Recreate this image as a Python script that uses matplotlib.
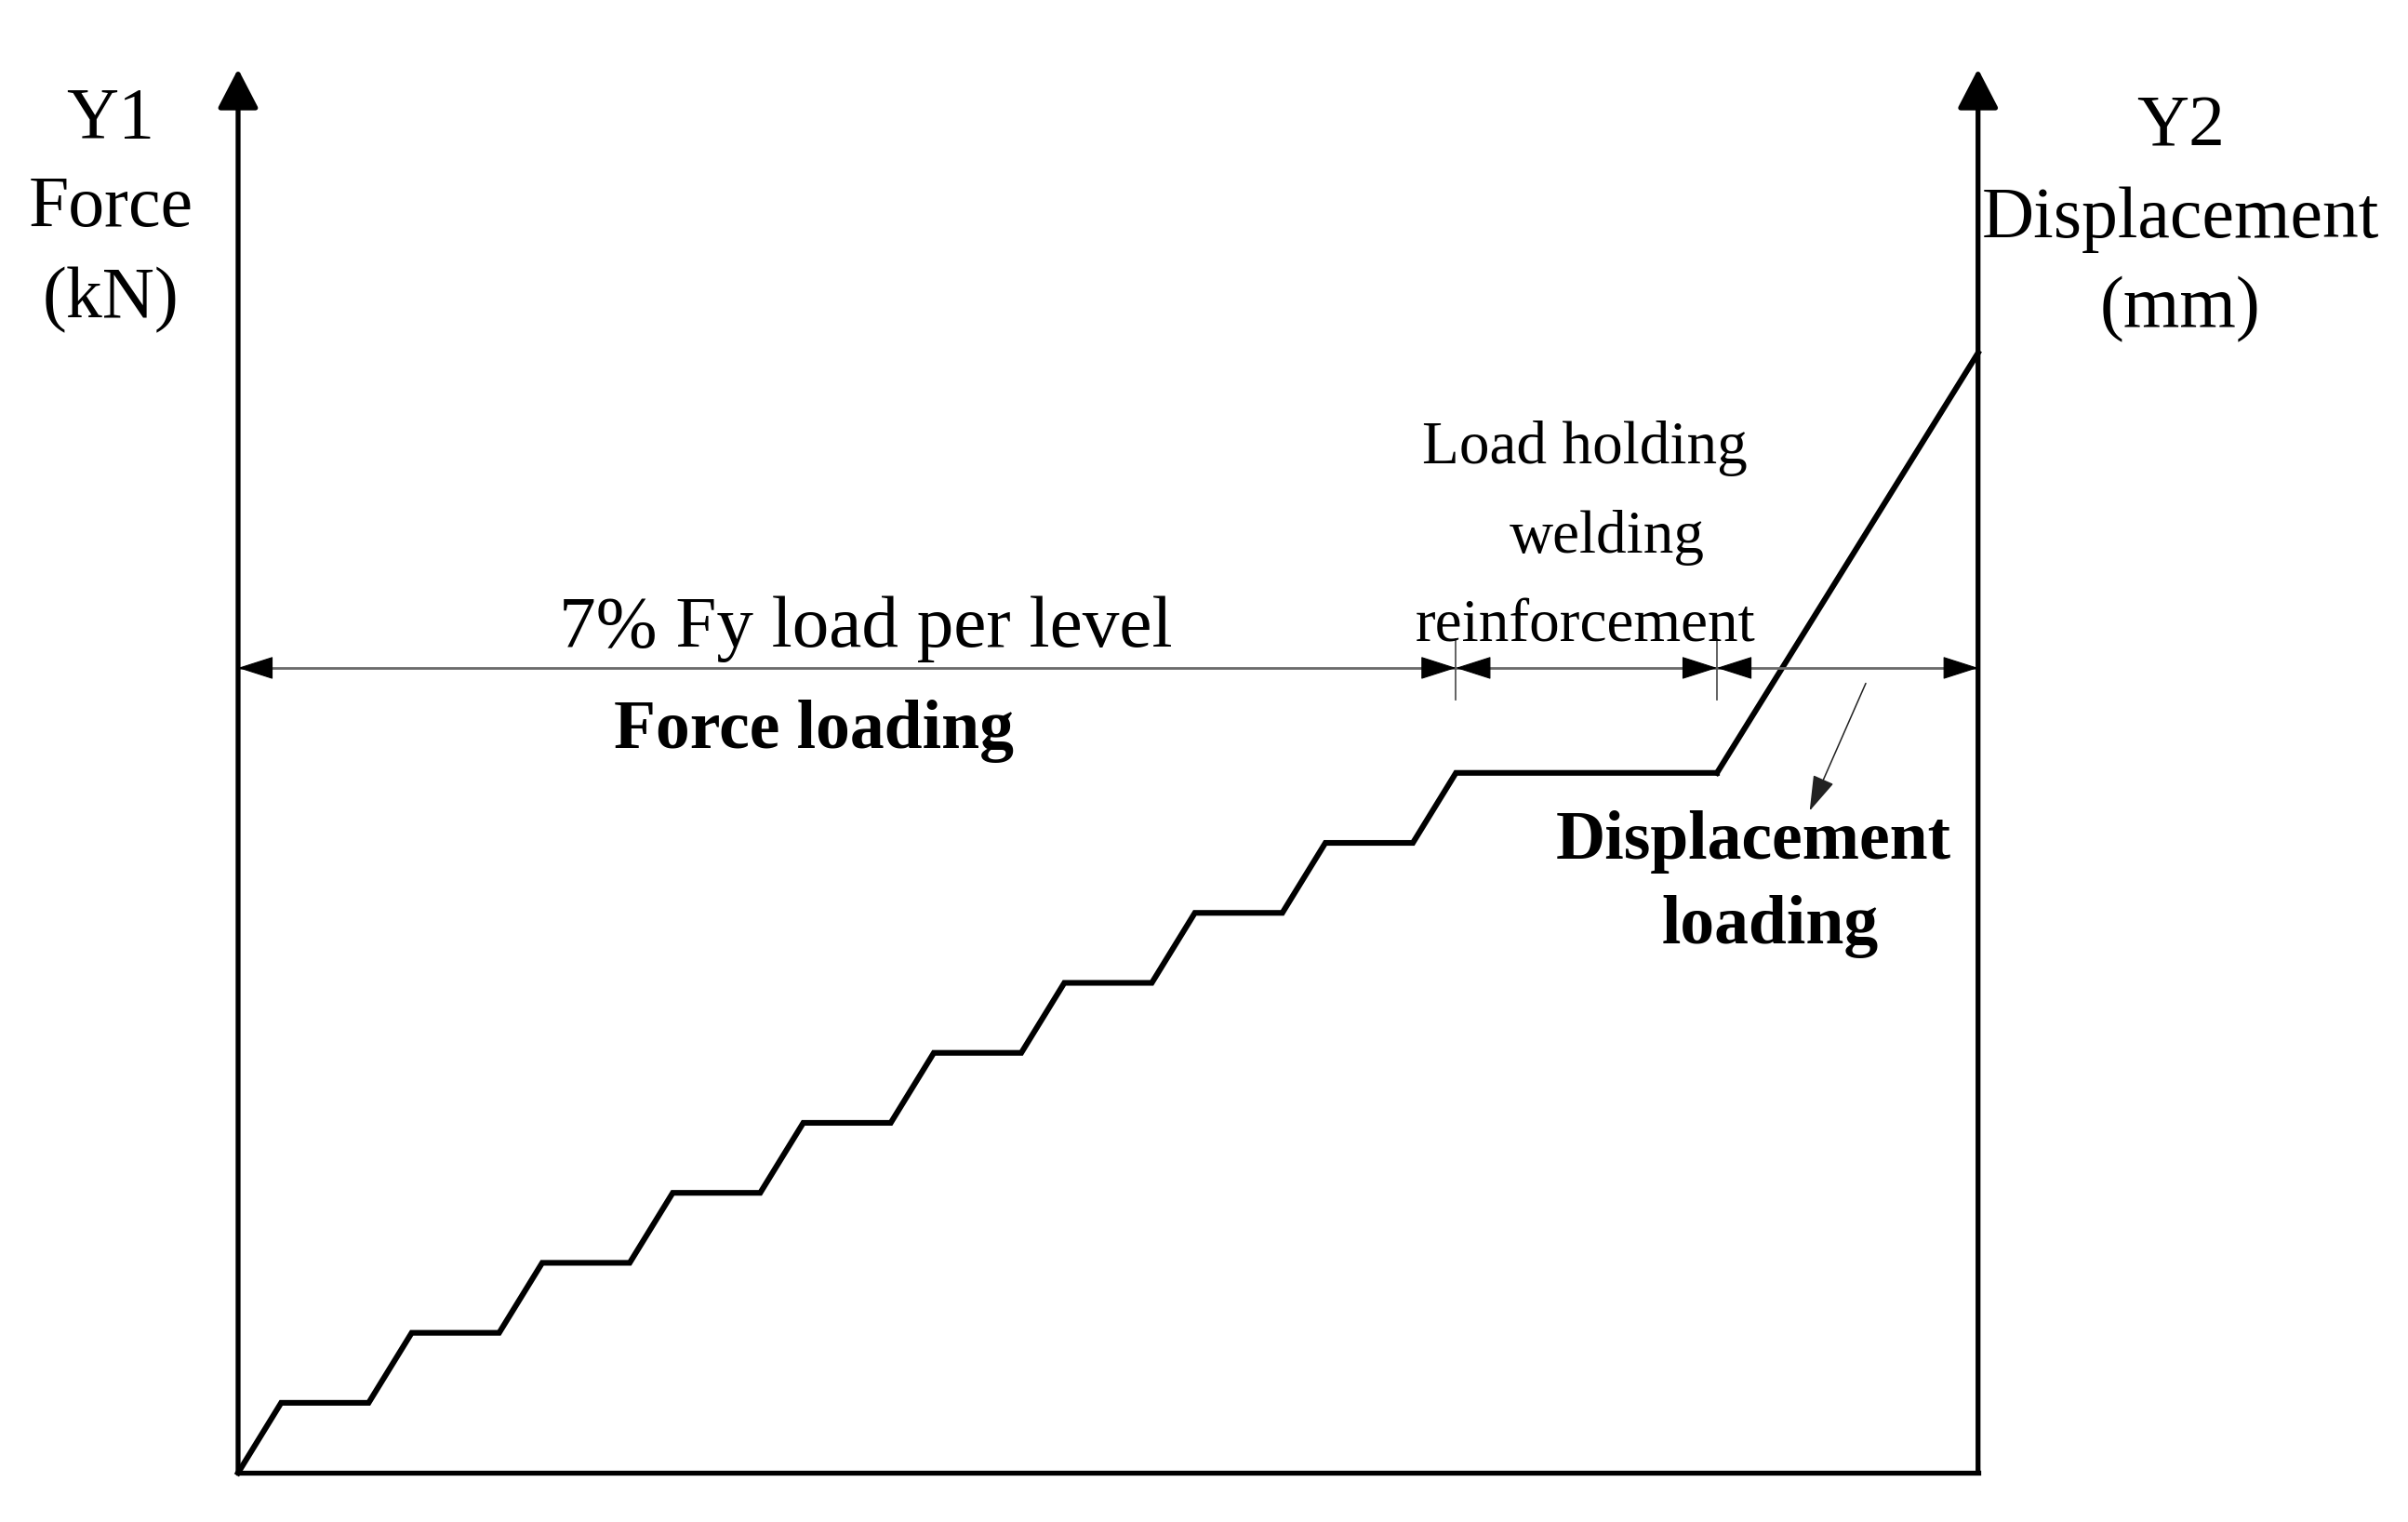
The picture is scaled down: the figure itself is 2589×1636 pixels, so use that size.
import matplotlib
matplotlib.use("Agg")
import matplotlib.pyplot as plt

plt.rcParams['font.family'] = ['Liberation Serif', 'DejaVu Serif']

# loading protocol (time in level-cycles, force in % Fy)
force_t = [0, 0.33, 1.0, 1.33, 2.0, 2.33, 3.0, 3.33, 4.0, 4.33, 5.0,
           5.33, 6.0, 6.33, 7.0, 7.33, 8.0, 8.33, 9.0, 9.33, 11.33]
force_level = [0, 7, 7, 14, 14, 21, 21, 28, 28, 35, 35,
               42, 42, 49, 49, 56, 56, 63, 63, 70, 70]
disp_t = [11.33, 13.33]
disp_level = [70, 112]

# stage boundaries shown on the dimension line
stage_bounds = [0, 9.33, 11.33, 13.33]
dim_y = 80.5
axis_top = 140.4
t_end = 13.33

fig = plt.figure(figsize=(25.89, 16.36), dpi=100)
ax = fig.add_axes([0, 0, 1, 1])
ax.set_xlim(-1.824, 16.624)
ax.set_ylim(-4.92, 147.3)
ax.axis('off')

# axes
ax.plot([0, t_end], [0, 0], color='k', lw=3.8, solid_capstyle='projecting')
ax_arrow = dict(arrowstyle='-|>,head_length=2.6,head_width=1.35',
                mutation_scale=10, lw=3.8, color='k', shrinkA=0, shrinkB=0)
ax.annotate('', xy=(0, axis_top), xytext=(0, 0), arrowprops=ax_arrow)
ax.annotate('', xy=(t_end, axis_top), xytext=(t_end, 0), arrowprops=ax_arrow)

# loading curve
ax.plot(force_t, force_level, color='k', lw=4.4, solid_joinstyle='miter')
ax.plot(disp_t, disp_level, color='k', lw=4.4)

# dimension line
ax.plot([stage_bounds[0], stage_bounds[-1]], [dim_y, dim_y], color='#6a6a6a', lw=2.0)
for xb in stage_bounds[1:-1]:
    ax.plot([xb, xb], [dim_y - 3.2, dim_y + 2.9], color='#555555', lw=1.3)
dim_arrow = dict(arrowstyle='-|>,head_length=2.5,head_width=0.8',
                 mutation_scale=10, lw=0.8, color='k', shrinkA=0, shrinkB=0)
for a, b in zip(stage_bounds[:-1], stage_bounds[1:]):
    ax.annotate('', xy=(a, dim_y), xytext=(a + 0.25, dim_y), arrowprops=dim_arrow)
    ax.annotate('', xy=(b, dim_y), xytext=(b - 0.25, dim_y), arrowprops=dim_arrow)

# pointer to displacement loading
ax.annotate('', xy=(12.04, 66.2), xytext=(12.47, 78.96),
            arrowprops=dict(arrowstyle='-|>,head_length=2.4,head_width=0.75',
                            mutation_scale=10, lw=1.1, color='#222222',
                            shrinkA=0, shrinkB=0))

# texts
big = 56
ax.text(-0.976, 135.3, 'Y1', fontsize=big, ha='center', va='center')
ax.text(-0.976, 126.4, 'Force', fontsize=big, ha='center', va='center')
ax.text(-0.976, 117.3, '(kN)', fontsize=big, ha='center', va='center')
ax.text(14.88, 134.5, 'Y2', fontsize=big, ha='center', va='center')
ax.text(14.88, 125.3, 'Displacement', fontsize=big, ha='center', va='center')
ax.text(14.88, 116.4, '(mm)', fontsize=big, ha='center', va='center')

ax.text(4.81, 84.35, '7% Fy load per level', fontsize=57, ha='center', va='center')
ax.text(4.41, 74.2, 'Force loading', fontsize=53, fontweight='bold',
        ha='center', va='center')

ax.text(10.32, 102.45, 'Load holding', fontsize=47, ha='center', va='center')
ax.text(10.49, 93.55, 'welding', fontsize=47, ha='center', va='center')
ax.text(10.32, 84.65, 'reinforcement', fontsize=47, ha='center', va='center')

ax.text(11.61, 63.1, 'Displacement', fontsize=53, fontweight='bold',
        ha='center', va='center')
ax.text(11.74, 54.6, 'loading', fontsize=53, fontweight='bold',
        ha='center', va='center')

fig.savefig('out.png', dpi=100, facecolor='white')
